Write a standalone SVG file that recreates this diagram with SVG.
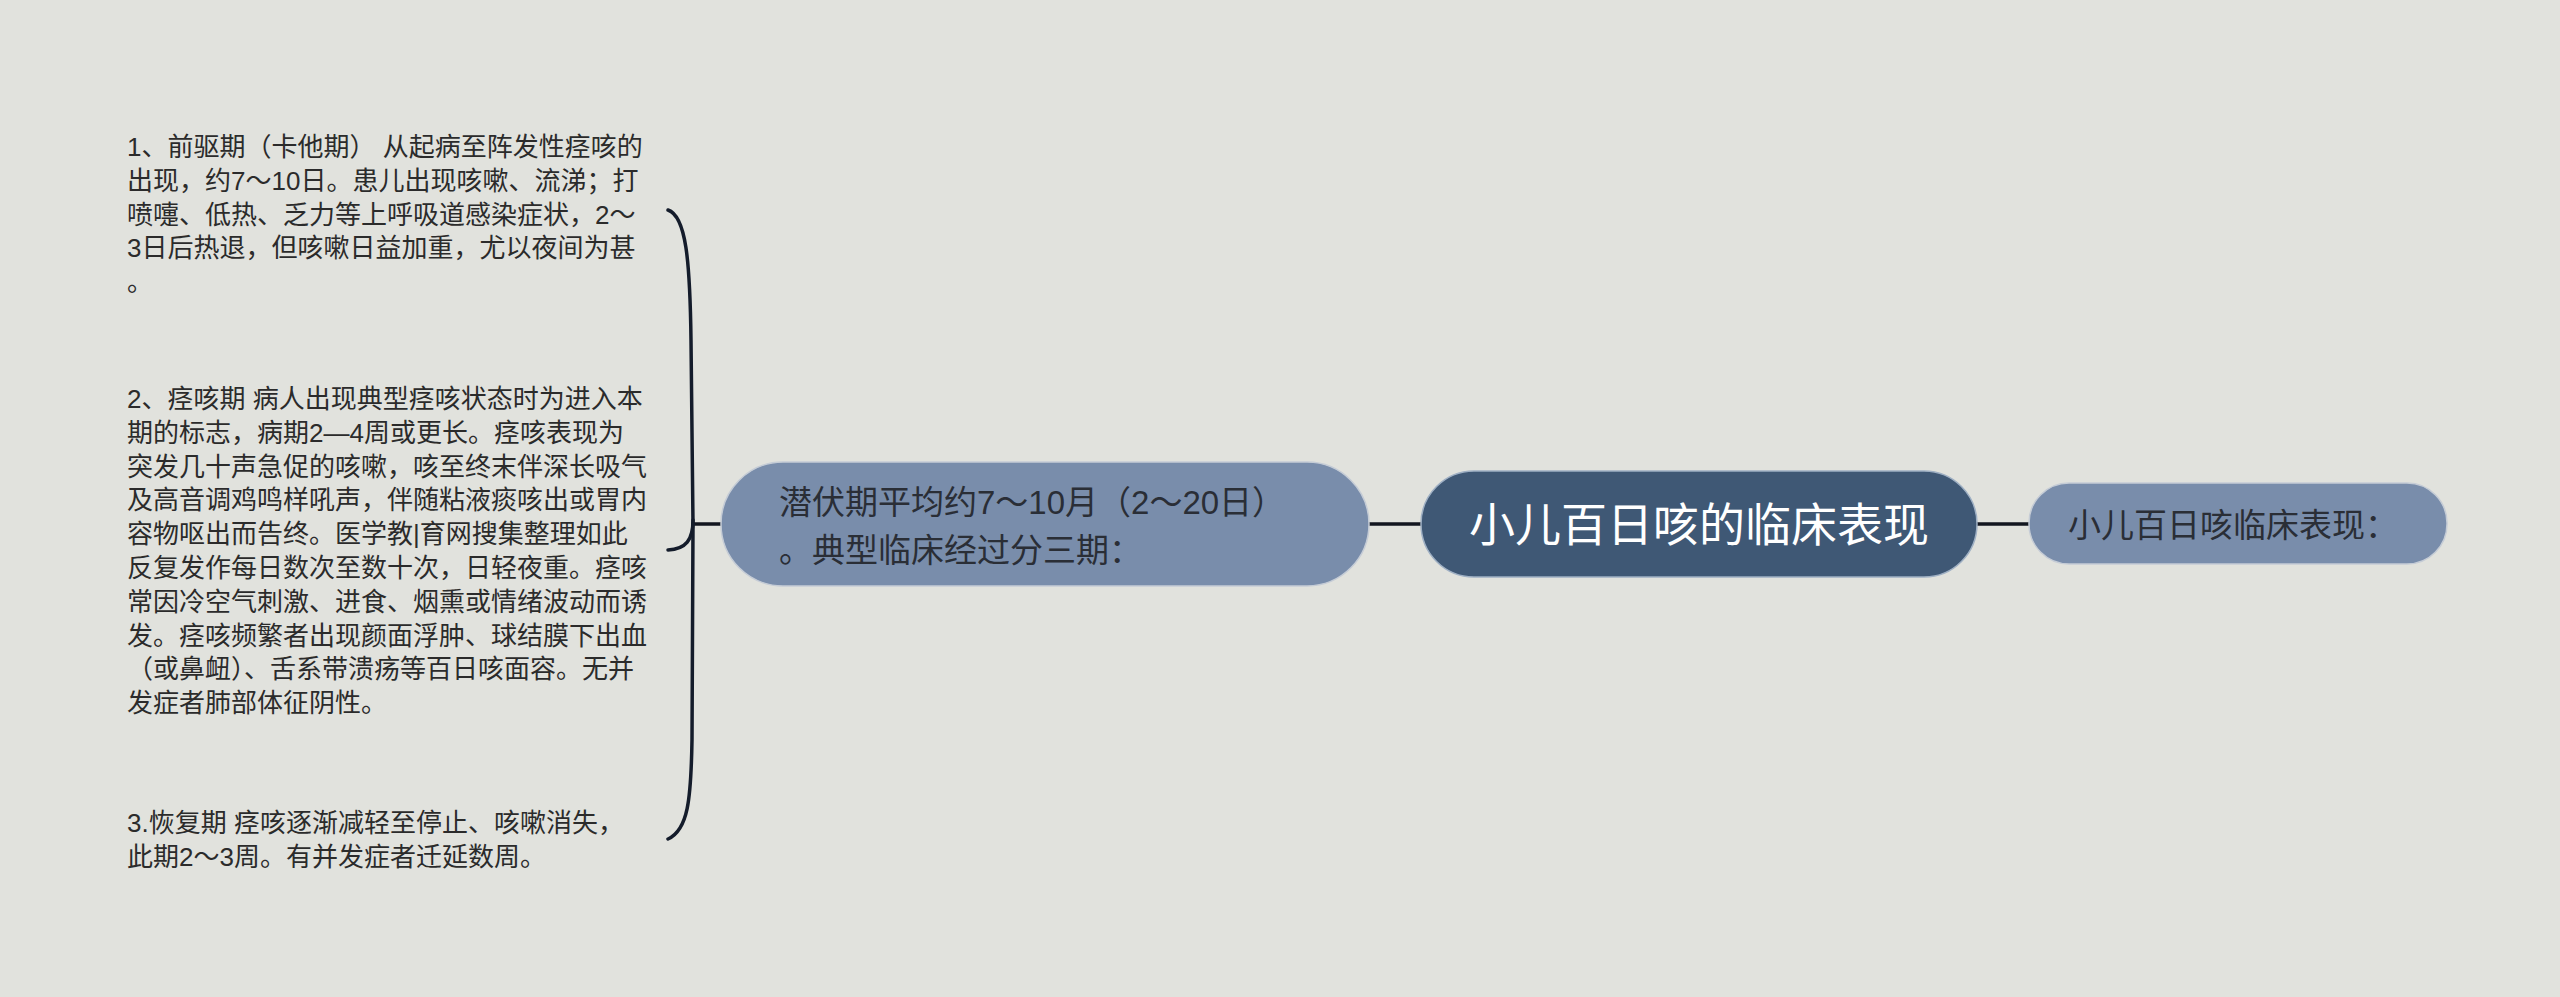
<svg xmlns="http://www.w3.org/2000/svg" width="2560" height="997" viewBox="0 0 2560 997">
<style>
.bg{fill:#e1e2dd}
.txt{font-family:"Liberation Sans","Noto Sans CJK SC",sans-serif;fill:#2b2b2b}
.blk{font-size:26px}
.sub{fill:#798dab;stroke:#c5ccd6;stroke-width:1.5}
.root{fill:#3f5875;stroke:#9fb0c4;stroke-width:1.5}
.subt{font-size:33px;fill:#2a2e36}
.roott{font-size:46px;fill:#ffffff}
.con{fill:none;stroke:#12161f;stroke-width:3.5;stroke-linecap:round}
.brace{fill:none;stroke:#141c2b;stroke-width:3.5;stroke-linecap:round;stroke-linejoin:round}
</style>
<rect class="bg" x="0" y="0" width="2560" height="997"/>
<g id="connectors">
<path class="con" d="M1977,524 L2029,524"/>
<path class="con" d="M1369,524 L1421,524"/>
<path class="con" d="M693,524 L721,524"/>
<path class="brace" d="M668,210 C686,216 690,260 691,340 L693,524"/>
<path class="brace" d="M693,520 C693,540 686,549 668,550"/>
<path class="brace" d="M693,524 L692,740 C691,800 688,830 668,839"/>
</g>
<g id="root">
<rect class="root" x="1421" y="471" width="556" height="106" rx="53" ry="53"/>
<text class="txt roott" x="1699" y="541" text-anchor="middle">小儿百日咳的临床表现</text>
</g>
<g id="right-node">
<rect class="sub" x="2029" y="483" width="418" height="81" rx="40" ry="40"/>
<text class="txt subt" x="2068" y="537">小儿百日咳临床表现：</text>
</g>
<g id="left-node">
<rect class="sub" x="721" y="462" width="648" height="124" rx="62" ry="62"/>
<text class="txt subt" x="779" y="514">潜伏期平均约7～10月（2～20日）</text>
<text class="txt subt" x="779" y="562">。典型临床经过分三期：</text>
</g>
<g id="stage1">
<text class="txt blk" x="127" y="156">1、前驱期（卡他期） 从起病至阵发性痉咳的</text>
<text class="txt blk" x="127" y="190">出现，约7～10日。患儿出现咳嗽、流涕；打</text>
<text class="txt blk" x="127" y="224">喷嚏、低热、乏力等上呼吸道感染症状，2～</text>
<text class="txt blk" x="127" y="257">3日后热退，但咳嗽日益加重，尤以夜间为甚</text>
<text class="txt blk" x="127" y="291">。</text>
</g>
<g id="stage2">
<text class="txt blk" x="127" y="408">2、痉咳期 病人出现典型痉咳状态时为进入本</text>
<text class="txt blk" x="127" y="442">期的标志，病期2—4周或更长。痉咳表现为</text>
<text class="txt blk" x="127" y="476">突发几十声急促的咳嗽，咳至终末伴深长吸气</text>
<text class="txt blk" x="127" y="509">及高音调鸡鸣样吼声，伴随粘液痰咳出或胃内</text>
<text class="txt blk" x="127" y="543">容物呕出而告终。医学教|育网搜集整理如此</text>
<text class="txt blk" x="127" y="577">反复发作每日数次至数十次，日轻夜重。痉咳</text>
<text class="txt blk" x="127" y="611">常因冷空气刺激、进食、烟熏或情绪波动而诱</text>
<text class="txt blk" x="127" y="645">发。痉咳频繁者出现颜面浮肿、球结膜下出血</text>
<text class="txt blk" x="127" y="678">（或鼻衄）、舌系带溃疡等百日咳面容。无并</text>
<text class="txt blk" x="127" y="712">发症者肺部体征阴性。</text>
</g>
<g id="stage3">
<text class="txt blk" x="127" y="832">3.恢复期 痉咳逐渐减轻至停止、咳嗽消失，</text>
<text class="txt blk" x="127" y="866">此期2～3周。有并发症者迁延数周。</text>
</g>
</svg>
